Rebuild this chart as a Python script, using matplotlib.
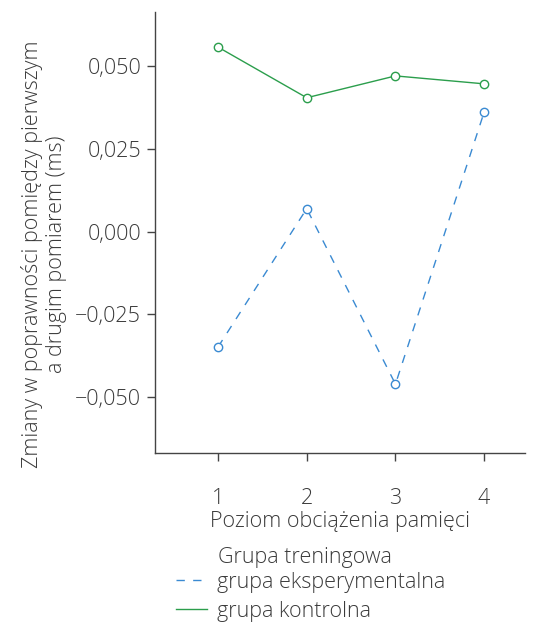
import matplotlib
matplotlib.use("Agg")
import matplotlib.pyplot as plt
from matplotlib.ticker import FuncFormatter

levels = [1, 2, 3, 4]
eksperymentalna = [-0.0349, 0.0069, -0.0461, 0.0361]
kontrolna = [0.0557, 0.0404, 0.0470, 0.0446]
y_ticks = [-0.050, -0.025, 0.000, 0.025, 0.050]

plt.rcParams['font.family'] = ['Open Sans', 'DejaVu Sans']
plt.rcParams['font.weight'] = 'light'
plt.rcParams['axes.labelweight'] = 'light'
txt = '#3a3a3a'
blue = '#3a8ad2'
green = '#2b9e4c'
FS = 15.5

fig = plt.figure(figsize=(5.38, 6.23), dpi=100)
ax = fig.add_axes([155/538, 1-453/623, (525-155)/538, (453-12)/623])

ax.plot(levels, eksperymentalna, color=blue, lw=1.0, ls=(0, (6, 6)), marker='o',
        ms=6, mfc='white', mec=blue, mew=1.0, label='grupa eksperymentalna')
ax.plot(levels, kontrolna, color=green, lw=1.0, marker='o',
        ms=6, mfc='white', mec=green, mew=1.0, label='grupa kontrolna')

ax.set_xlim(0.29, 4.46)
ax.set_ylim(-0.0669, 0.0663)
ax.set_xticks(levels)
ax.set_yticks(y_ticks)
ax.yaxis.set_major_formatter(FuncFormatter(
    lambda v, p: ('\u2212' if v < -1e-9 else '') + f"{abs(v):.3f}".replace('.', ',')))
for s in ['top', 'right']:
    ax.spines[s].set_visible(False)
for s in ['left', 'bottom']:
    ax.spines[s].set_color('#444444')
    ax.spines[s].set_linewidth(1.0)
ax.tick_params(axis='both', direction='out', length=6, width=1.0, colors='#444444',
               labelsize=FS, labelcolor=txt)
ax.tick_params(axis='x', pad=19)
ax.tick_params(axis='y', pad=4)

ax.set_xlabel('Poziom obciążenia pamięci', fontsize=FS, color=txt, labelpad=2,
              fontweight='light')
ax.set_ylabel('Zmiany w poprawności pomiędzy pierwszym\na drugim pomiarem (ms)',
              fontsize=FS, color=txt, linespacing=1.2, fontweight='light')
ax.yaxis.set_label_coords(-0.238, 0.45)

leg = fig.legend(loc='upper left', bbox_to_anchor=(176/538, 1-572/623), frameon=False,
                 fontsize=FS, handlelength=1.45, handletextpad=0.45, labelspacing=0.35,
                 borderaxespad=0, borderpad=0)
for h in leg.legend_handles:
    h.set_marker('')
for t in leg.get_texts():
    t.set_color(txt)
fig.text(218/538, 1-557/623, 'Grupa treningowa', fontsize=FS, color=txt,
         ha='left', va='center', fontweight='light')

fig.savefig('out.png', dpi=100)
